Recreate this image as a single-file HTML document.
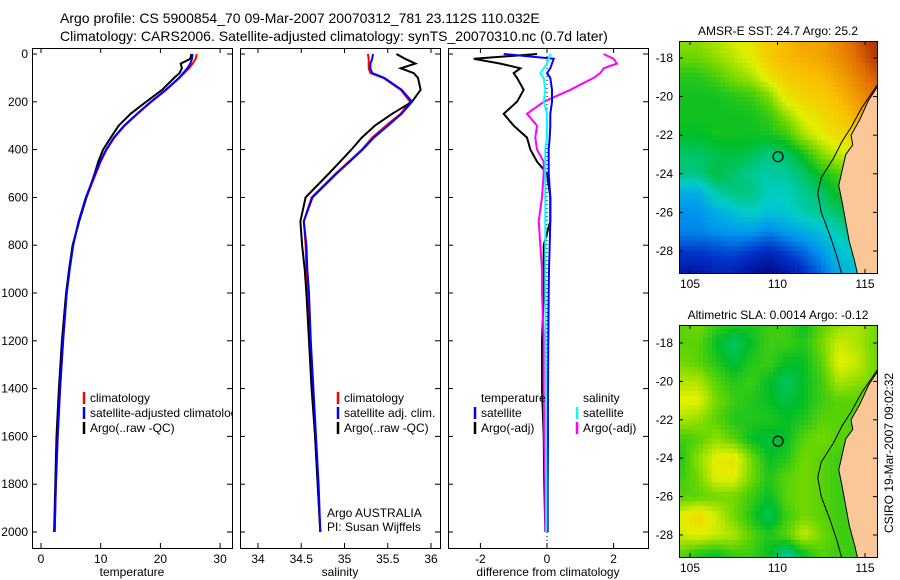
<!DOCTYPE html>
<html><head><meta charset="utf-8">
<style>
html,body{margin:0;padding:0;background:#fff;}
svg{display:block;font-family:"Liberation Sans",sans-serif;}
</style></head>
<body>
<svg id="chart" width="900" height="580" viewBox="0 0 900 580" xmlns="http://www.w3.org/2000/svg">
<text x="60" y="23" font-size="14">Argo profile: CS 5900854_70 09-Mar-2007 20070312_781 23.112S 110.032E</text>
<text x="60" y="41" font-size="14">Climatology: CARS2006. Satellite-adjusted climatology: synTS_20070310.nc (0.7d later)</text>
<text transform="translate(893,453) rotate(-90)" text-anchor="middle" font-size="12">CSIRO 19-Mar-2007 09:02:32</text>
<g id="g"></g>
</svg>
<script>
// ---------- data ----------
const depths = [0,20,40,60,80,100,150,200,250,300,350,400,450,500,600,700,800,900,1000,1200,1400,1600,1800,2000];
const tempClim = [26.1,25.9,25.4,24.8,24.0,23.2,21.0,18.5,16.2,14.0,12.3,11.0,10.0,9.2,7.6,6.3,5.4,4.8,4.3,3.7,3.2,2.8,2.5,2.3];
const tempSat  = [25.4,25.3,25.0,24.5,23.8,23.1,20.9,18.4,16.1,13.9,12.2,10.9,9.9,9.1,7.5,6.3,5.4,4.8,4.3,3.7,3.2,2.8,2.5,2.3];
const tempArgo = [25.2,25.0,23.4,23.6,23.2,22.3,20.3,17.6,15.0,13.0,11.7,10.4,9.6,9.0,7.6,6.4,5.3,4.7,4.2,3.5,3.0,2.6,2.4,2.2];
const salClim = [35.27,35.28,35.28,35.28,35.30,35.45,35.65,35.76,35.65,35.48,35.32,35.20,35.05,34.90,34.62,34.53,34.55,34.56,34.58,34.60,34.63,34.66,34.69,34.72];
const salSat  = [35.33,35.32,35.30,35.30,35.32,35.46,35.66,35.78,35.66,35.50,35.34,35.21,35.06,34.91,34.63,34.53,34.56,34.57,34.59,34.61,34.64,34.67,34.70,34.72];
const salArgo = [35.60,35.70,35.82,35.65,35.80,35.85,35.88,35.78,35.55,35.35,35.20,35.08,34.95,34.82,34.55,34.49,34.51,34.54,34.56,34.59,34.62,34.66,34.69,34.72];
const dTempSat  = [-1.3,0.2,0.15,0.1,0.0,0.1,0.15,0.15,0.1,0.1,0.08,0.05,0.05,0.05,0.1,0.1,0.08,0.06,0.05,0.04,0.03,0.03,0.02,0.02];
const dTempArgo = [-0.3,-2.2,-1.4,-0.8,-1.0,-0.9,-0.7,-0.9,-1.3,-1.0,-0.6,-0.5,-0.3,0.0,0.1,0.1,-0.1,-0.1,-0.1,-0.15,-0.15,-0.1,-0.08,-0.05];
const dSalSat   = [0.1,0.05,0.0,-0.1,-0.2,-0.1,-0.05,-0.1,0.0,0.0,0.0,-0.05,-0.05,-0.05,-0.05,-0.05,-0.05,-0.05,-0.05,-0.04,-0.03,-0.03,-0.02,-0.02];
const dSalArgo  = [1.7,2.0,2.1,1.7,1.6,1.4,0.7,-0.1,-0.6,-0.3,-0.35,-0.3,-0.1,-0.1,-0.15,-0.25,-0.2,-0.15,-0.15,-0.1,-0.1,-0.08,-0.05,-0.05];
const depthTicks = [0,200,400,600,800,1000,1200,1400,1600,1800,2000];
const tempTicks = [0,10,20,30];
const salTicks = [34,34.5,35,35.5,36];
const diffTicks = [-2,0,2];
const mapLons = [104.5,105.5,106.5,107.5,108.5,109.5,110.5,111.5,112.5,113.5,114.5,115.5];
const mapLats = [-17,-18,-19,-20,-21,-22,-23,-24,-25,-26,-27,-28,-29];
const sstGrid = [
[24.7,24.7,24.9,25.1,25.3,25.6,25.8,26.0,26.0,26.3,26.6,26.9],
[24.5,24.5,24.7,24.9,25.2,25.6,25.8,25.9,26.0,26.2,26.5,26.8],
[24.1,24.1,24.3,24.6,24.8,25.3,25.6,25.7,25.8,26.0,26.3,26.6],
[24.0,24.0,24.0,24.1,24.2,24.6,25.3,25.5,25.6,25.8,26.1,26.4],
[24.0,24.0,24.0,24.0,24.0,24.2,24.7,25.2,25.4,25.6,25.9,26.2],
[23.9,23.9,24.0,24.0,24.0,24.0,24.2,24.8,25.2,25.4,25.6,25.8],
[23.6,23.6,23.7,23.8,23.7,23.5,23.6,24.0,24.6,25.0,25.0,25.0],
[23.5,23.5,23.8,23.6,23.4,23.3,23.4,23.6,24.0,24.3,24.5,24.5],
[22.8,22.8,23.3,23.5,23.5,23.2,23.2,23.4,23.6,24.0,24.2,24.2],
[22.5,22.5,22.8,23.0,23.2,23.0,23.1,23.3,23.4,23.6,23.8,23.8],
[22.4,22.4,22.5,22.6,22.6,22.4,22.6,22.8,23.0,23.3,23.5,23.5],
[21.8,21.8,21.9,22.0,21.8,21.6,21.9,22.2,22.6,23.0,23.2,23.2],
[21.3,21.3,21.5,21.5,21.2,21.0,21.3,21.7,22.2,22.8,23.0,23.0]];
const slaGrid = [
[0.05,0.1,0,-0.05,-0.05,0,0,-0.1,0.05,0.15,0.2,0.1],
[0.05,0.05,-0.1,-0.2,-0.1,0,0,-0.05,0.1,0.25,0.2,0.1],
[0.1,0.05,-0.05,-0.15,-0.05,0,-0.1,-0.1,0.05,0.3,0.25,0.1],
[0.2,0.2,0.05,-0.05,0,-0.1,-0.2,-0.1,0,0.2,0.15,0.1],
[0.3,0.3,0.1,0,-0.05,-0.1,-0.15,-0.1,0,0.05,0.05,0.05],
[0.2,0.15,0.05,-0.05,-0.05,-0.05,-0.1,-0.05,0.05,0.05,0.05,0.05],
[0,0.05,0.15,0.05,-0.1,-0.15,-0.1,0.05,0.1,0.05,0.05,0.05],
[-0.05,0.15,0.3,0.35,0.1,-0.1,-0.05,0.1,0.05,0,0,0],
[0,0.1,0.3,0.3,0.1,-0.05,0.05,0.1,0.05,0,0,0],
[0.05,0.05,0.1,0.1,0,-0.1,0.05,0.1,0.05,0,0,0],
[0.3,0.4,0.25,0.1,-0.05,-0.2,0,0.1,0.05,0,0,0],
[0.25,0.3,0.25,0.2,0.05,-0.05,0.05,0.25,0.1,0,0,0],
[0.05,-0.05,-0.1,0,0,-0.1,-0.3,-0.1,0.05,0,0,0]];
const coast = [[115.7,-19.5],[115.2,-20.2],[114.7,-21.2],[114.2,-22.0],[114.3,-22.5],[113.9,-23.0],[113.7,-23.8],[113.5,-24.6],[113.7,-25.5],[113.9,-26.5],[114.1,-27.5],[114.4,-28.5],[114.6,-29.3]];
const isobath = [[115.7,-19.4],[114.8,-20.6],[114.2,-21.6],[113.7,-22.3],[113.2,-23.2],[112.5,-24.2],[112.3,-25.0],[112.5,-26.0],[113.0,-27.2],[113.4,-28.3],[113.7,-29.3]];
const floatLon = 110.032, floatLat = -23.112;
const lonTicks = [105,110,115];
const latTicks = [-18,-20,-22,-24,-26,-28];

// ---------- helpers ----------
const NS = "http://www.w3.org/2000/svg";
const G = document.getElementById('g');
function mk(tag, attrs, parent){const e=document.createElementNS(NS,tag);for(const k in attrs)e.setAttribute(k,attrs[k]);(parent||G).appendChild(e);return e;}
const yTop=48, yBot=548;
const yD = d => 54 + d*0.239;

const panels = [
 {x0:32,x1:232,sx:v=>41+v*5.97,ticks:tempTicks,label:'temperature',name:'temperature-panel'},
 {x0:240,x1:440,sx:v=>258+(v-34)*86.5,ticks:salTicks,label:'salinity',name:'salinity-panel'},
 {x0:448,x1:648,sx:v=>547+v*33.3,ticks:diffTicks,label:'difference from climatology',name:'difference-panel'}
];
panels.forEach((p,i)=>{
  const cp=mk('clipPath',{id:'cp'+i});
  mk('rect',{x:p.x0,y:yTop,width:p.x1-p.x0,height:yBot-yTop},cp);
  const frame=mk('rect',{x:p.x0+0.5,y:yTop+0.5,width:p.x1-p.x0,height:yBot-yTop,fill:'none',stroke:'#000','stroke-width':1});
  
  
  p.ticks.forEach(t=>{
    const x=p.sx(t);
    mk('line',{x1:x,x2:x,y1:yTop,y2:yTop+5,stroke:'#000'});
    mk('line',{x1:x,x2:x,y1:yBot-5,y2:yBot,stroke:'#000'});
    const tx=mk('text',{x:x,y:yBot+15,'text-anchor':'middle','font-size':12});
    tx.textContent=String(t);
    
    
  });
  depthTicks.forEach(d=>{
    const y=yD(d);
    mk('line',{x1:p.x0,x2:p.x0+5,y1:y,y2:y,stroke:'#000'});
    mk('line',{x1:p.x1-5,x2:p.x1,y1:y,y2:y,stroke:'#000'});
    if(i===0){
      const tx=mk('text',{x:28,y:y+4,'text-anchor':'end','font-size':12});
      tx.textContent=String(d);
      
      
    }
  });
  const lb=mk('text',{x:(p.x0+p.x1)/2,y:yBot+28,'text-anchor':'middle','font-size':12});
  lb.textContent=p.label;
  
  
});
function line(pi,vals,color,name,w){
  const p=panels[pi];
  const pts=vals.map((v,k)=>p.sx(v).toFixed(1)+','+yD(depths[k]).toFixed(1)).join(' ');
  const e=mk('polyline',{points:pts,fill:'none',stroke:color,'stroke-width':w||2,'clip-path':'url(#cp'+pi+')'});
  
  
}
line(0,tempClim,'#f00','temp-climatology-line');
line(0,tempArgo,'#000','temp-argo-line');
line(0,tempSat,'#00f','temp-satellite-line');
line(1,salClim,'#f00','sal-climatology-line');
line(1,salArgo,'#000','sal-argo-line');
line(1,salSat,'#00f','sal-satellite-line');
mk('line',{x1:547,x2:547,y1:yTop,y2:yBot,stroke:'#000','stroke-dasharray':'1,3'});
line(2,dTempArgo,'#000','diff-temp-argo-line');
line(2,dSalArgo,'#f0f','diff-sal-argo-line');
line(2,dTempSat,'#00f','diff-temp-satellite-line');
line(2,dSalSat,'#0ff','diff-sal-satellite-line');

function legend(x,y,items,cp){
  items.forEach((it,k)=>{
    const yy=y+k*15;
    if(it[0]) mk('line',{x1:x,x2:x,y1:yy-10,y2:yy+2,stroke:it[0],'stroke-width':2.5});
    const t=mk('text',{x:x+6,y:yy,'font-size':12,'clip-path':cp||''});
    t.textContent=it[1];
    
    
  });
}
legend(84,402,[['#f00','climatology'],['#00f','satellite-adjusted climatology'],['#000','Argo(..raw -QC)']],'url(#cp0)');
legend(338,402,[['#f00','climatology'],['#00f','satellite adj. clim.'],['#000','Argo(..raw -QC)']]);
legend(475,402,[[null,'temperature'],['#00f','satellite'],['#000','Argo(-adj)']]);
legend(577,402,[[null,'salinity'],['#0ff','satellite'],['#f0f','Argo(-adj)']]);
const a1=mk('text',{x:327,y:517,'font-size':12});a1.textContent='Argo AUSTRALIA';


const a2=mk('text',{x:327,y:531,'font-size':12});a2.textContent='PI: Susan Wijffels';



// ---------- maps ----------
const stops=[[0,[0,0,130]],[0.15,[0,50,200]],[0.28,[0,150,240]],[0.38,[0,205,200]],[0.5,[0,190,40]],[0.6,[110,215,0]],[0.7,[225,240,0]],[0.8,[250,190,0]],[0.92,[225,110,0]],[1,[160,30,0]]];
function cmap(t){t=Math.max(0,Math.min(1,t));for(let i=1;i<stops.length;i++){if(t<=stops[i][0]){const a=stops[i-1],b=stops[i];const f=(t-a[0])/(b[0]-a[0]);const c=a[1].map((v,j)=>Math.round(v+(b[1][j]-v)*f));return 'rgb('+c.join(',')+')';}}return 'rgb(160,30,0)';}
function sample(grid,lon,lat){
  let fc=(lon-mapLons[0]), fr=(mapLats[0]-lat);
  fc=Math.max(0,Math.min(mapLons.length-1.0001,fc)); fr=Math.max(0,Math.min(mapLats.length-1.0001,fr));
  const c=Math.floor(fc), r=Math.floor(fr), u=fc-c, w=fr-r;
  return grid[r][c]*(1-u)*(1-w)+grid[r][c+1]*u*(1-w)+grid[r+1][c]*(1-u)*w+grid[r+1][c+1]*u*w;
}
function drawMap(m){
  const X=lon=>m.x105+(lon-105)*m.px, Y=lat=>m.y18+(-18-lat)*m.py;
  const cp=mk('clipPath',{id:m.id});
  mk('rect',{x:m.l,y:m.t,width:m.r-m.l,height:m.b-m.t},cp);
  const g=mk('g',{'clip-path':'url(#'+m.id+')'});
  
  
  const step=0.25;
  for(let lat=-16.5; lat>-29.75; lat-=step){
    for(let lon=104; lon<116; lon+=step){
      const v=sample(m.grid,lon+step/2,lat-step/2);
      mk('rect',{x:X(lon).toFixed(1),y:Y(lat).toFixed(1),width:(m.px*step+0.6).toFixed(1),height:(m.py*step+0.6).toFixed(1),fill:cmap(m.norm(v))},g);
    }
  }
  const land=coast.concat([[116.5,-29.5],[116.5,-19.5]]);
  const lp=mk('polygon',{points:land.map(p=>X(p[0])+','+Y(p[1])).join(' '),fill:'#fac898',stroke:'#000','stroke-width':1},g);
  
  
  const ib=mk('polyline',{points:isobath.map(p=>X(p[0])+','+Y(p[1])).join(' '),fill:'none',stroke:'#000','stroke-width':1},g);
  
  
  const fm=mk('circle',{cx:X(floatLon),cy:Y(floatLat),r:5,fill:'none',stroke:'#000','stroke-width':1.2});
  
  
  mk('rect',{x:m.l+0.5,y:m.t+0.5,width:m.r-m.l,height:m.b-m.t,fill:'none',stroke:'#000'});
  lonTicks.forEach(l=>{const x=X(l);mk('line',{x1:x,x2:x,y1:m.b-4,y2:m.b,stroke:'#000'});mk('line',{x1:x,x2:x,y1:m.t,y2:m.t+4,stroke:'#000'});
    const t=mk('text',{x:x,y:m.b+15,'text-anchor':'middle','font-size':12});t.textContent=String(l);
    
    });
  latTicks.forEach(l=>{const y=Y(l);mk('line',{x1:m.l,x2:m.l+4,y1:y,y2:y,stroke:'#000'});mk('line',{x1:m.r-4,x2:m.r,y1:y,y2:y,stroke:'#000'});
    const t=mk('text',{x:m.l-6,y:y+4,'text-anchor':'end','font-size':12});t.textContent=String(l);
    
    });
  const tt=mk('text',{x:(m.l+m.r)/2,y:m.t-6,'text-anchor':'middle','font-size':12});tt.textContent=m.title;
  
  
}
drawMap({id:'m1',name:'sst-map',l:679,r:877,t:41,b:273,x105:690,px:17.5,y18:58,py:19.3,grid:sstGrid,norm:v=>(v-20.8)/6.2,title:'AMSR-E SST: 24.7 Argo: 25.2'});
drawMap({id:'m2',name:'sla-map',l:679,r:877,t:325,b:557,x105:690,px:17.5,y18:343,py:19.2,grid:slaGrid,norm:v=>0.555+v*0.5,title:'Altimetric SLA: 0.0014 Argo: -0.12'});
</script>
</body></html>
